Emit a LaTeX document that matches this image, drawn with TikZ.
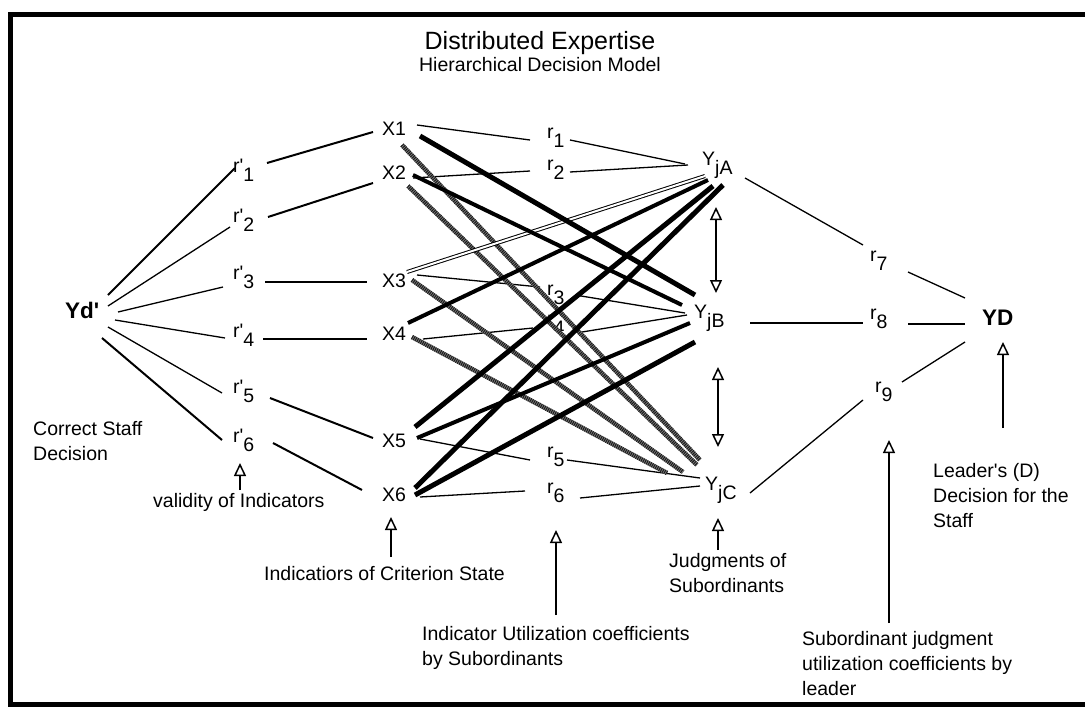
\documentclass[tikz,border=0pt]{standalone}
\usepackage{fontspec}
\setmainfont{Liberation Sans}
\usetikzlibrary{arrows.meta,calc}
\newcommand\lo[1]{\raisebox{-0.5em}{#1}}
\newcommand\labfont{\fontsize{19.5pt}{25pt}\selectfont}
\newcommand\boldlab{\fontsize{22.5pt}{27pt}\selectfont\bfseries}
\newcommand\pr{\textquotesingle}
\begin{document}
\begin{tikzpicture}[x=1pt,y=-1pt,
  txt/.style={font=\labfont, inner sep=0pt, anchor=base west},
  bld/.style={font=\boldlab, inner sep=0pt, anchor=base west},
  para/.style={txt, align=left},
  ln/.style={line width=1.3pt},
  lnm/.style={line width=2pt},
  heavy/.style={line width=5pt},
  heavyb/.style={line width=4pt},
  hatch/.style={line width=4.5pt, draw=black!50},
  hatchtop/.style={line width=4.5pt, draw=black!90, dash pattern=on 1pt off 1pt},
  dbl/.style={line width=1pt, double=white, double distance=2pt},
  tipo/.tip={Triangle[open,length=13pt,width=12pt,fill=white]},
  upar/.style={line width=1.5pt, -tipo},
  bothar/.style={line width=1.5pt, tipo-tipo},
]
\useasboundingbox (0,0) rectangle (1085,707);
% frame
\draw[line width=5pt] (1085,14) -- (10,14) -- (10,704) -- (1085,704);

% titles
\node[inner sep=0pt, anchor=base, font=\fontsize{25pt}{30pt}\selectfont] (title) at (540,49) {Distributed Expertise};
\node[txt, anchor=base] (subtitle) at (540,71) {Hierarchical Decision Model};

% nodes
\node[bld] (yd) at (65,318) {Yd\pr};
\node[txt] (rp1) at (233,172) {r\pr\lo{1}};
\node[txt] (rp2) at (233,222) {r\pr\lo{2}};
\node[txt] (rp3) at (233,279) {r\pr\lo{3}};
\node[txt] (rp4) at (233,337) {r\pr\lo{4}};
\node[txt] (rp5) at (233,393) {r\pr\lo{5}};
\node[txt] (rp6) at (233,442) {r\pr\lo{6}};

\node[txt] (x1) at (382,135) {X1};
\node[txt] (x2) at (382,179) {X2};
\node[txt] (x3) at (382,287) {X3};
\node[txt] (x4) at (382,340) {X4};
\node[txt] (x5) at (382,447) {X5};
\node[txt] (x6) at (382,501) {X6};

\node[txt] (r1) at (547,138) {r\lo{1}};
\node[txt] (r2) at (547,170) {r\lo{2}};
\node[txt] (r3) at (547,295) {r\lo{3}};
\node[txt] (r4) at (547,325) {r\lo{4}};
\node[txt] (r5) at (547,457) {r\lo{5}};
\node[txt] (r6) at (547,493) {r\lo{6}};

\node[txt] (yja) at (702,165) {Y\lo{jA}};
\node[txt] (yjb) at (694,318) {Y\lo{jB}};
\node[txt] (yjc) at (705,490) {Y\lo{jC}};

\node[txt] (r7) at (870,261) {r\lo{7}};
\node[txt] (r8) at (870,319) {r\lo{8}};
\node[txt] (r9) at (875,392) {r\lo{9}};
\node[bld] (ydl) at (982,325) {YD};

% labels (anchored at the baseline of their last line)
\node[para] (corr) at (33,460) {Correct Staff\\Decision};
\node[txt] (lval) at (153,507) {validity of Indicators};
\node[txt] (lcrit) at (264,580) {Indicatiors of Criterion State};
\node[para] (lutil) at (422,665) {Indicator Utilization coefficients\\by Subordinants};
\node[para] (ljudg) at (669,592) {Judgments of\\Subordinants};
\node[para] (lsubj) at (802,695) {Subordinant judgment\\utilization coefficients by\\leader};
\node[para] (llead) at (933,527) {Leader\pr s (D)\\Decision for the\\Staff};

% Yd' fan
\draw[lnm] ([shift={(43,-23)}]yd.base west) -- ([shift={(2,-4)}]rp1.base west);
\draw[ln]  ([shift={(43,-12)}]yd.base west) -- ([shift={(-3,5)}]rp2.base west);
\draw[ln]  ([shift={(53,-6)}]yd.base west) -- ([shift={(-10,8)}]rp3.base west);
\draw[ln]  ([shift={(50,2)}]yd.base west) -- ([shift={(-8,1)}]rp4.base west);
\draw[ln]  ([shift={(43,9)}]yd.base west) -- ([shift={(-11,0)}]rp5.base west);
\draw[lnm] ([shift={(37,20)}]yd.base west) -- ([shift={(-11,-2)}]rp6.base west);

% r' -> X
\draw[lnm] ([shift={(34,-9)}]rp1.base west) -- ([shift={(-9,-3)}]x1.base west);
\draw[lnm] ([shift={(35,-5)}]rp2.base west) -- ([shift={(-9,4)}]x2.base west);
\draw[lnm] ([shift={(32,3)}]rp3.base west) -- ([shift={(-15,-5)}]x3.base west);
\draw[lnm] ([shift={(30,2)}]rp4.base west) -- ([shift={(-15,-1)}]x4.base west);
\draw[lnm] ([shift={(37,5)}]rp5.base west) -- ([shift={(-9,-9)}]x5.base west);
\draw[lnm] ([shift={(40,1)}]rp6.base west) -- ([shift={(-20,-11)}]x6.base west);

% X -> r -> Y (thin)
\draw[ln] ([shift={(35,-10)}]x1.base west) -- ([shift={(-17,2)}]r1.base west);
\draw[ln] ([shift={(23,2)}]r1.base west) -- ([shift={(-17,-1)}]yja.base west);
\draw[ln] ([shift={(31,-1)}]x2.base west) -- ([shift={(-17,1)}]r2.base west);
\draw[ln] ([shift={(23,2)}]r2.base west) -- ([shift={(-14,0)}]yja.base west);
\draw[ln] ([shift={(35,-12)}]x3.base west) -- ([shift={(-7,-8)}]r3.base west);
\draw[ln] ([shift={(28,0)}]r3.base west) -- ([shift={(-9,-5)}]yjb.base west);
\draw[ln] ([shift={(41,-1)}]x4.base west) -- ([shift={(-14,3)}]r4.base west);
\draw[ln] ([shift={(35,7)}]r4.base west) -- ([shift={(-7,-3)}]yjb.base west);
\draw[ln] ([shift={(38,-8)}]x5.base west) -- ([shift={(-17,3)}]r5.base west);
\draw[ln] ([shift={(20,3)}]r5.base west) -- ([shift={(-5,-12)}]yjc.base west);
\draw[ln] ([shift={(38,-4)}]x6.base west) -- ([shift={(-22,-2)}]r6.base west);
\draw[ln] ([shift={(33,5)}]r6.base west) -- ([shift={(-5,-4)}]yjc.base west);

% hatched grey X -> YjC
\foreach \s/\sx/\sy/\ex/\ey in {x1/20/10/-5/-30, x2/26/7/-8/-25, x3/30/-7/-22/-18, x4/30/-3/-38/-17}{
  \draw[hatch] ([shift={(\sx,\sy)}]\s.base west) -- ([shift={(\ex,\ey)}]yjc.base west);
  \draw[hatchtop] ([shift={(\sx,\sy)}]\s.base west) -- ([shift={(\ex,\ey)}]yjc.base west);
}

% double X3 -> YjA
\draw[dbl] ([shift={(25,-15)}]x3.base west) -- ([shift={(3,11)}]yja.base west);

% heavy black
\draw[heavy]  ([shift={(38,1)}]x1.base west) -- ([shift={(1,-23)}]yjb.base west);
\draw[heavyb] ([shift={(31,-4)}]x2.base west) -- ([shift={(-12,-13)}]yjb.base west);
\draw[heavyb] ([shift={(26,-17)}]x4.base west) -- ([shift={(6,15)}]yja.base west);
\draw[heavy]  ([shift={(33,-20)}]x5.base west) -- ([shift={(11,21)}]yja.base west);
\draw[heavy]  ([shift={(33,-13)}]x6.base west) -- ([shift={(21,20)}]yja.base west);
\draw[heavyb] ([shift={(35,-9)}]x5.base west) -- ([shift={(-4,5)}]yjb.base west);
\draw[heavy]  ([shift={(33,-6)}]x6.base west) -- ([shift={(1,24)}]yjb.base west);

% right side
\draw[ln]  ([shift={(43,13)}]yja.base west) -- ([shift={(-7,-16)}]r7.base west);
\draw[ln]  ([shift={(38,11)}]r7.base west) -- ([shift={(-17,-27)}]ydl.base west);
\draw[lnm] ([shift={(56,5)}]yjb.base west) -- ([shift={(-7,4)}]r8.base west);
\draw[ln]  ([shift={(38,5)}]r8.base west) -- ([shift={(-17,-1)}]ydl.base west);
\draw[ln]  ([shift={(45,3)}]yjc.base west) -- ([shift={(-12,8)}]r9.base west);
\draw[ln]  ([shift={(27,-10)}]r9.base west) -- ([shift={(-17,17)}]ydl.base west);

% double arrows between judgments
\draw[bothar] ([shift={(14,42)}]yja.base west) -- ([shift={(22,-25)}]yjb.base west);
\draw[bothar] ([shift={(24,49)}]yjb.base west) -- ([shift={(13,-43)}]yjc.base west);

% explanatory arrows
\draw[upar] ([shift={(87,-17)}]lval.base west) -- ([shift={(7,21)}]rp6.base west);
\draw[upar] ([shift={(127,-23)}]lcrit.base west) -- ([shift={(9,16)}]x6.base west);
\draw[upar] ([shift={(134,-50)}]lutil.base west) -- ([shift={(9,37)}]r6.base west);
\draw[upar] ([shift={(49,-42)}]ljudg.base west) -- ([shift={(13,28)}]yjc.base west);
\draw[upar] ([shift={(87,-72)}]lsubj.base west) -- ([shift={(14,48)}]r9.base west);
\draw[upar] ([shift={(70,-99)}]llead.base west) -- ([shift={(21,17)}]ydl.base west);
\end{tikzpicture}
\end{document}
